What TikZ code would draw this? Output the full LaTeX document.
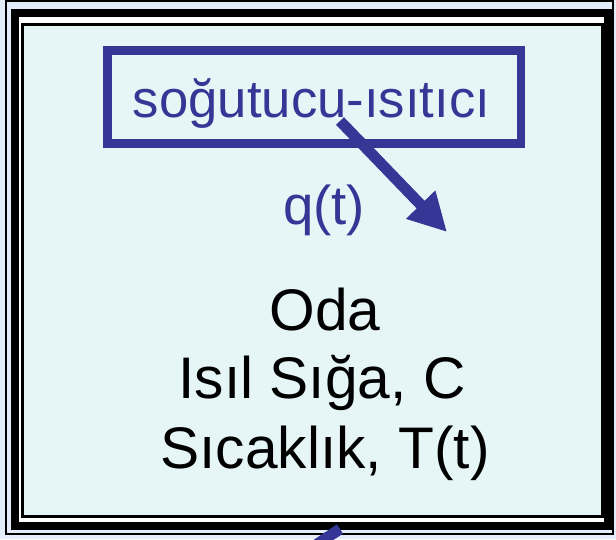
\documentclass[tikz,border=0pt]{standalone}
\usepackage{fontspec}
\setmainfont{Liberation Sans}
\usetikzlibrary{arrows.meta}

\definecolor{mavi}{RGB}{54,54,150}
\definecolor{zemin}{RGB}{226,236,250}
\definecolor{odarenk}{RGB}{230,245,246}

\tikzset{every picture/.style={line width=0.75pt}}

\begin{document}
\begin{tikzpicture}[x=0.75pt,y=0.75pt,yscale=-1,xscale=1]
	\clip (0,0) rectangle (616,539);
	\fill [zemin] (0,0) rectangle (616,539);

	%Shape: Rectangle [outer thin frame]
	\draw [line width=1.5] (5.5,1) rectangle (613,534);
	%Shape: Rectangle [thick frame]
	\draw [line width=6, fill=white] (14.5,12.5) rectangle (607.5,525.5);
	%Shape: Rectangle [room]
	\draw [line width=2.25, fill=odarenk] (22,24) rectangle (602.5,516);

	%Shape: Rectangle [heater box]
	\draw [color=mavi, line width=6.4] (107.5,50.5) rectangle (521,143.5);
	% Text Node
	\draw (311.5,117) node (kutu) [anchor=base, text=mavi, font=\fontsize{39.5}{47}\selectfont] {soğutucu-ısıtıcı};

	%Straight Lines [heat flow]
	\coordinate (qbas) at (340,121);
	\coordinate (quc) at (447,232);
	\draw [color=mavi, line width=8.25, -{Triangle[length=28.5pt, width=28.5pt]}] (qbas) -- (quc);
	% Text Node
	\draw (324,224) node (akis) [anchor=base, text=mavi, font=\fontsize{41}{48}\selectfont] {q(t)};

	% Text Node
	\draw (325,330) node (oda) [anchor=base, font=\fontsize{44}{52}\selectfont] {Oda};
	% Text Node
	\draw (322,398) node (siga) [anchor=base, font=\fontsize{44}{52}\selectfont] {Isıl Sığa, C};
	% Text Node
	\draw (325,468) node (sicaklik) [anchor=base, font=\fontsize{44}{52}\selectfont] {Sıcaklık, T(t)};

	%Straight Lines [lower flow, cut off]
	\coordinate (altbas) at (290,562);
	\coordinate (altuc) at (340,529);
	\draw [color=mavi, line width=8.25] (altbas) -- (altuc);

\end{tikzpicture}
\end{document}
